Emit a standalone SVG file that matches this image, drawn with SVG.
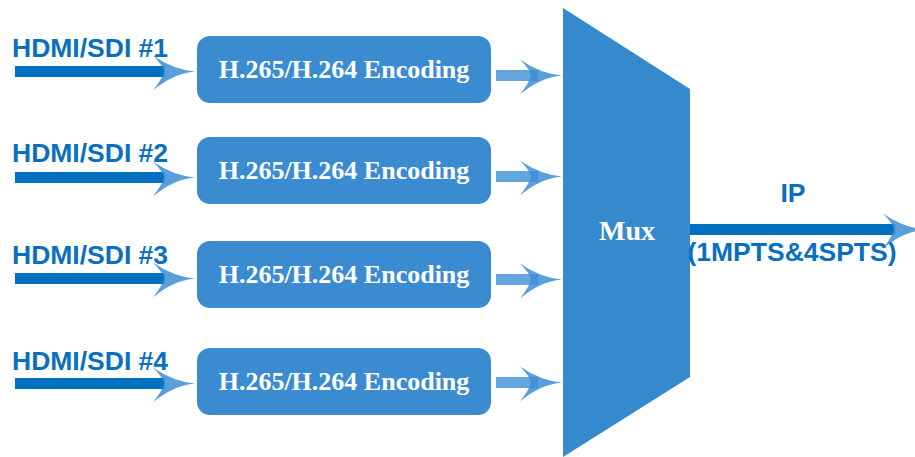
<svg xmlns="http://www.w3.org/2000/svg" width="915" height="457" viewBox="0 0 915 457">
<style>
.lbl{font-family:"Liberation Sans",Arial,sans-serif;font-weight:bold;font-size:26.5px;fill:#0a6fc0}
.box{fill:#3a8bcf}
.btxt{font-family:"Liberation Serif","Times New Roman",serif;font-weight:bold;font-size:26px;fill:#fff;text-anchor:middle}
.inbar{fill:#0070c0}
.outbar{fill:#3d8fd4;opacity:0.8}
.head{fill:#3e8ed3;opacity:0.85}
</style>
<defs>
<path id="ah" d="M-42,-16 Q-22,-2 0,0 Q-22,2 -42,19 Q-32,6 -31,0 Q-32,-6 -42,-16 Z"/>
</defs>
<rect width="915" height="457" fill="#fff"/>
<g id="mux">
<polygon points="563,8 690,89 690,377 563,457" fill="#3589cd"/>
<text x="627" y="240" class="btxt" style="font-size:28px">Mux</text>
</g>
<g id="in1">
<text x="12" y="57" class="lbl">HDMI/SDI #1</text>
</g>
<g id="in2">
<text x="12" y="162" class="lbl">HDMI/SDI #2</text>
</g>
<g id="in3">
<text x="12" y="264" class="lbl">HDMI/SDI #3</text>
</g>
<g id="in4">
<text x="12" y="370" class="lbl">HDMI/SDI #4</text>
</g>
<g id="enc1"><rect class="box" x="197" y="36" width="294" height="67" rx="13"/><text class="btxt" x="344" y="78">H.265/H.264 Encoding</text></g>
<g id="enc2"><rect class="box" x="197" y="137" width="294" height="67" rx="13"/><text class="btxt" x="344" y="179">H.265/H.264 Encoding</text></g>
<g id="enc3"><rect class="box" x="197" y="241" width="294" height="67" rx="13"/><text class="btxt" x="344" y="283">H.265/H.264 Encoding</text></g>
<g id="enc4"><rect class="box" x="197" y="348" width="294" height="67" rx="13"/><text class="btxt" x="344" y="390">H.265/H.264 Encoding</text></g>
<g id="out">
<text x="793" y="202" class="lbl" text-anchor="middle">IP</text>
<text x="792" y="261" class="lbl" text-anchor="middle">(1MPTS&amp;4SPTS)</text>
</g>
<g id="connectors">
<rect class="inbar" x="15" y="66" width="150" height="11"/>
<use href="#ah" class="head" transform="translate(195,71.5)"/>
<rect class="inbar" x="15" y="172" width="150" height="11"/>
<use href="#ah" class="head" transform="translate(195,177.5)"/>
<rect class="inbar" x="15" y="273" width="150" height="11"/>
<use href="#ah" class="head" transform="translate(195,278.5)"/>
<rect class="inbar" x="15" y="378" width="150" height="11"/>
<use href="#ah" class="head" transform="translate(195,383.5)"/>
<rect class="outbar" x="496" y="70" width="42" height="11"/>
<use href="#ah" class="head" transform="translate(562,75.5)"/>
<rect class="outbar" x="496" y="171" width="42" height="11"/>
<use href="#ah" class="head" transform="translate(562,176.5)"/>
<rect class="outbar" x="496" y="274" width="42" height="11"/>
<use href="#ah" class="head" transform="translate(562,279.5)"/>
<rect class="outbar" x="496" y="377" width="42" height="11"/>
<use href="#ah" class="head" transform="translate(562,382.5)"/>
<rect class="inbar" x="690" y="224" width="205" height="11"/>
<use href="#ah" class="head" transform="translate(925,229.5)"/>
</g>
</svg>
